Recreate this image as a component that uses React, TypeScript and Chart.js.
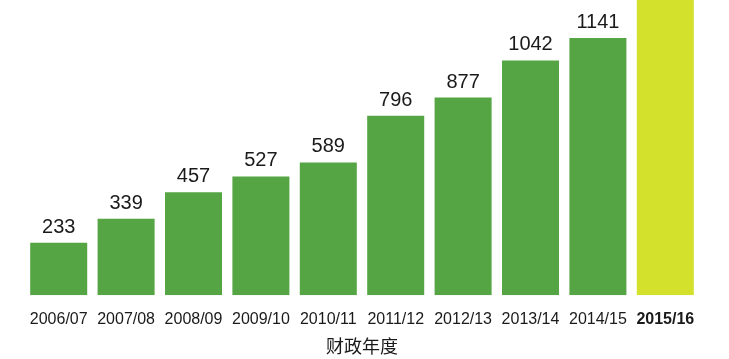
import React, { useEffect, useRef } from "react";
import { Chart, registerables } from "chart.js";

Chart.register(...registerables);

const categories = ["2006/07", "2007/08", "2008/09", "2009/10", "2010/11", "2011/12", "2012/13", "2013/14", "2014/15", "2015/16"];
const values = [233, 339, 457, 527, 589, 796, 877, 1042, 1141, 1400];
const barColors = ["#55a544", "#55a544", "#55a544", "#55a544", "#55a544", "#55a544", "#55a544", "#55a544", "#55a544", "#d3e02c"];
const axisTitle = "财政年度";
const yMax = 1310;

const FONT = '"Liberation Sans", Arial, Helvetica, sans-serif';

const valueLabels = {
  id: "valueLabels",
  afterDatasetsDraw(chart: any) {
    const { ctx } = chart;
    const meta = chart.getDatasetMeta(0);
    const yScale = chart.scales.y;
    ctx.save();
    ctx.font = `20px ${FONT}`;
    ctx.fillStyle = "#1a1a1a";
    ctx.textAlign = "center";
    ctx.textBaseline = "alphabetic";
    meta.data.forEach((bar: any, i: number) => {
      const v = values[i];
      if (v > yScale.max) return;
      ctx.fillText(String(v), bar.x, bar.y - 10);
    });
    ctx.restore();
  },
};

export default function App() {
  const ref = useRef<HTMLCanvasElement>(null);
  useEffect(() => {
    if (!ref.current) return;
    const chart = new Chart(ref.current, {
      type: "bar",
      data: {
        labels: categories,
        datasets: [
          {
            data: values,
            backgroundColor: barColors,
            borderWidth: 0,
            categoryPercentage: 1,
            barPercentage: 0.846,
          },
        ],
      },
      options: {
        animation: false,
        responsive: false,
        maintainAspectRatio: false,
        layout: { padding: { top: 0, left: 25, right: 30, bottom: 0 } },
        plugins: { legend: { display: false }, tooltip: { enabled: false } },
        scales: {
          y: { display: false, min: 0, max: yMax },
          x: {
            grid: { display: false, drawTicks: false },
            border: { display: false },
            ticks: {
              padding: 15,
              color: "#1a1a1a",
              maxRotation: 0,
              autoSkip: false,
              font: (c: any) => ({
                family: FONT,
                size: 16,
                weight: c.index === 9 ? "bold" : "normal",
              }),
            },
            title: {
              display: true,
              text: axisTitle,
              color: "#1a1a1a",
              font: { family: '"Noto Sans CJK SC", sans-serif', size: 18 },
              padding: { top: -9, bottom: 2 },
            },
          },
        },
      },
      plugins: [valueLabels],
    });
    return () => chart.destroy();
  }, []);
  return (
    <div style={{ position: "fixed", left: 0, top: 0, width: 729, height: 359, background: "#fff" }}>
      <canvas ref={ref} width={729} height={359} style={{ display: "block" }} />
    </div>
  );
}
